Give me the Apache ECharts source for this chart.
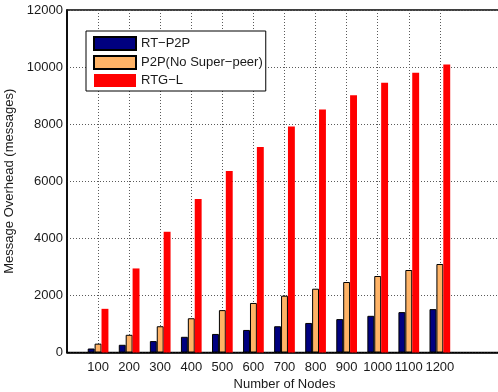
<!DOCTYPE html>
<html>
<head>
<meta charset="utf-8">
<script src="https://cdn.jsdelivr.net/npm/echarts@6/dist/echarts.min.js"></script>
<style>
  html, body { margin: 0; padding: 0; background: #fff; }
  #chart { width: 498px; height: 392px; }
</style>
</head>
<body>
<div id="chart"></div>
<script>
// Number of nodes in the network (x positions of the bar groups)
const nodes = [100, 200, 300, 400, 500, 600, 700, 800, 900, 1000, 1100, 1200];

// Message overhead per scheme
const rtP2P = [140, 270, 400, 550, 650, 790, 920, 1035, 1170, 1285, 1415, 1520];
const p2pNoSuperPeer = [310, 620, 920, 1200, 1485, 1735, 1990, 2235, 2470, 2680, 2890, 3100];
const rtgL = [1530, 2945, 4230, 5375, 6360, 7200, 7920, 8510, 9010, 9455, 9805, 10090];

// Y axis ticks
const yTicks = [0, 2000, 4000, 6000, 8000, 10000, 12000];

const FONT = '"Liberation Sans", Arial, Helvetica, sans-serif';
const GRID_GRAY = '#5a5a5a';
const GRID_DASH = [1, 2];
const X_MIN = 0, X_MAX = 1400, X_STEP = 100;
const toPairs = vals => vals.map((v, i) => [nodes[i], v]);

// one colour per x tick: dotted lines only at the labelled node counts
const xGridColors = [];
for (let v = X_MIN; v <= X_MAX; v += X_STEP) {
  xGridColors.push(nodes.indexOf(v) >= 0 ? GRID_GRAY : 'rgba(0,0,0,0)');
}

const chart = echarts.init(document.getElementById('chart'), null, { renderer: 'canvas' });

chart.setOption({
  animation: false,
  backgroundColor: '#fff',
  textStyle: { fontFamily: FONT, color: '#1a1a1a' },
  grid: {
    left: 67, top: 10, width: 435, height: 342.5,
    outerBoundsMode: 'none',
    containLabel: false,
    show: true, borderColor: '#000', borderWidth: 1.5, backgroundColor: 'transparent'
  },
  legend: {
    orient: 'vertical',
    left: 86, top: 31,
    padding: [5, 3, 4, 7],
    itemWidth: 42, itemHeight: 13, itemGap: 4,
    backgroundColor: '#fff',
    borderColor: '#000', borderWidth: 1,
    textStyle: { fontFamily: FONT, fontSize: 13, color: '#1a1a1a' },
    selectedMode: false,
    data: [
      { name: 'RT\u2212P2P', icon: 'rect' },
      { name: 'P2P(No Super\u2212peer)', icon: 'rect' },
      { name: 'RTG\u2212L', icon: 'rect' }
    ]
  },
  xAxis: {
    type: 'value',
    min: X_MIN, max: X_MAX, interval: X_STEP,
    name: 'Number of Nodes',
    nameLocation: 'middle', nameGap: 21,
    nameTextStyle: { fontFamily: FONT, fontSize: 13, color: '#1a1a1a' },
    axisLine: { show: true, lineStyle: { color: '#000', width: 1.5 } },
    axisTick: { show: false },
    splitLine: {
      show: true,
      lineStyle: { color: xGridColors, width: 1, type: GRID_DASH }
    },
    axisLabel: {
      fontFamily: FONT, fontSize: 13, color: '#1a1a1a', margin: 8,
      formatter: v => (nodes.indexOf(v) >= 0 ? String(v) : '')
    }
  },
  yAxis: {
    type: 'value',
    min: yTicks[0], max: yTicks[yTicks.length - 1], interval: 2000,
    name: 'Message Overhead (messages)',
    nameLocation: 'middle', nameGap: 37,
    nameTextStyle: { fontFamily: FONT, fontSize: 13, color: '#1a1a1a' },
    axisLine: { show: true, lineStyle: { color: '#000', width: 1.5 } },
    axisTick: { show: false },
    splitLine: { show: true, lineStyle: { color: GRID_GRAY, width: 1, type: GRID_DASH } },
    axisLabel: {
      fontFamily: FONT, fontSize: 13, color: '#1a1a1a', margin: 4,
      formatter: v => String(v)
    }
  },
  series: [
    {
      name: 'RT\u2212P2P',
      type: 'bar',
      barWidth: 6.9,
      barGap: '0%',
      data: toPairs(rtP2P),
      itemStyle: { color: '#000080', borderColor: '#000', borderWidth: 1 }
    },
    {
      name: 'P2P(No Super\u2212peer)',
      type: 'bar',
      barWidth: 6.9,
      barGap: '0%',
      data: toPairs(p2pNoSuperPeer),
      itemStyle: { color: '#FFB366', borderColor: '#000', borderWidth: 1 }
    },
    {
      name: 'RTG\u2212L',
      type: 'bar',
      barWidth: 6.9,
      barGap: '0%',
      data: toPairs(rtgL),
      itemStyle: { color: '#FF0000' }
    }
  ]
});
</script>
</body>
</html>
